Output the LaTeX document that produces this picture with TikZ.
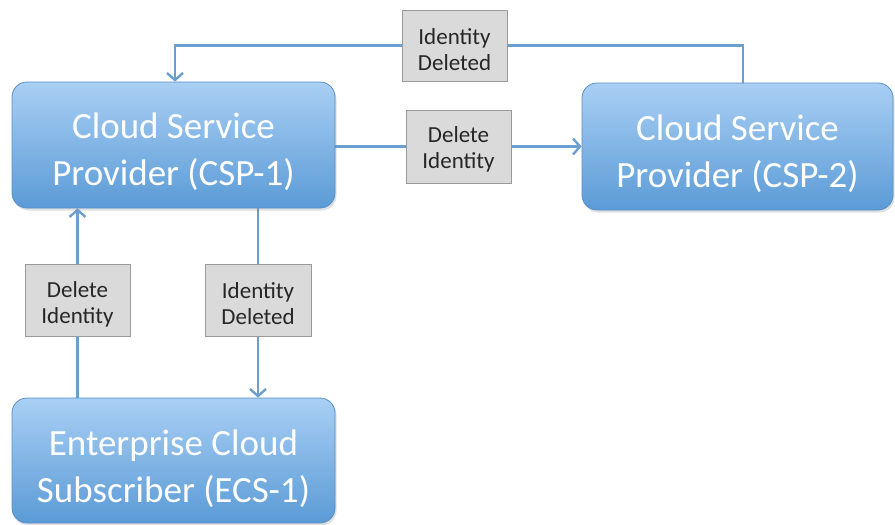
\documentclass[tikz,border=0pt]{standalone}
\usepackage{fontspec}
\setmainfont{Carlito}
\usetikzlibrary{arrows.meta,shadows}
\pgfdeclarelayer{background}
\pgfsetlayers{background,main}
\definecolor{boxtop}{HTML}{A9CFF4}
\definecolor{boxbot}{HTML}{5B9BD6}
\definecolor{boxline}{HTML}{5A8FC8}
\definecolor{conncol}{HTML}{6A9FD0}
\definecolor{lblfill}{HTML}{DADADA}
\definecolor{lblline}{HTML}{9A9A9A}
\definecolor{lbltext}{HTML}{262626}
\tikzset{
  bigbox/.style={rounded corners=15pt, draw=boxline, line width=0.8pt,
    top color=boxtop, bottom color=boxbot, inner sep=0pt,
    drop shadow={opacity=0.25, shadow xshift=1.5pt, shadow yshift=-2.5pt}},
  bigtext/.style={text=white, font=\fontsize{37}{47}\selectfont, align=center, inner sep=0pt},
  lbl/.style={draw=lblline, line width=0.9pt, fill=lblfill, inner sep=0pt},
  lbltxt/.style={text=lbltext, font=\fontsize{23}{26}\selectfont, align=center, inner sep=0pt},
  conn/.style={draw=conncol, line width=2.2pt},
  arr/.style={-{Straight Barb[length=7pt,width=16pt,line width=2.4pt]}}
}
\begin{document}
\begin{tikzpicture}[x=1pt,y=-1pt]
\useasboundingbox (0,0) rectangle (895,525);
\node[bigbox, minimum width=323pt, minimum height=126pt] (csp1) at (173.5,145) {};
\node[bigtext] (csp1t) at ([yshift=-7pt]csp1.center) {Cloud Service\\Provider (CSP-1)};
\node[bigbox, minimum width=311pt, minimum height=127pt] (csp2) at (737.5,146.5) {};
\node[bigtext] (csp2t) at ([yshift=-7pt]csp2.center) {Cloud Service\\Provider (CSP-2)};
\node[bigbox, minimum width=323pt, minimum height=125pt] (ecs) at (173.5,460.5) {};
\node[bigtext] (ecst) at ([yshift=-8pt]ecs.center) {Enterprise Cloud\\Subscriber (ECS-1)};
\node[lbl, minimum width=105pt, minimum height=71pt] (ltop) at (454.5,45.5) {};
\node[lbltxt] at ([yshift=-4pt]ltop.center) {Identity\\Deleted};
\node[lbl, minimum width=105pt, minimum height=73pt] (lmid) at (458.5,146.5) {};
\node[lbltxt] at ([yshift=-3pt]lmid.center) {Delete\\Identity};
\node[lbl, minimum width=105pt, minimum height=72pt] (lleft) at (77.5,300) {};
\node[lbltxt] at ([yshift=-4pt]lleft.center) {Delete\\Identity};
\node[lbl, minimum width=106pt, minimum height=72pt] (lright) at (258,300) {};
\node[lbltxt] at ([yshift=-4pt]lright.center) {Identity\\Deleted};
\begin{pgfonlayer}{background}
\draw[conn, arr] ([xshift=5.5pt]csp2.north) |- (ltop.center) -| ([xshift=1.5pt]csp1.north);
\draw[conn, arr] (csp1.east |- lmid) -- (csp2.west |- lmid);
\draw[conn, arr] (ecs.north -| lleft) -- (csp1.south -| lleft);
\draw[conn, arr] (csp1.south -| lright) -- (ecs.north -| lright);
\end{pgfonlayer}
\end{tikzpicture}
\end{document}
